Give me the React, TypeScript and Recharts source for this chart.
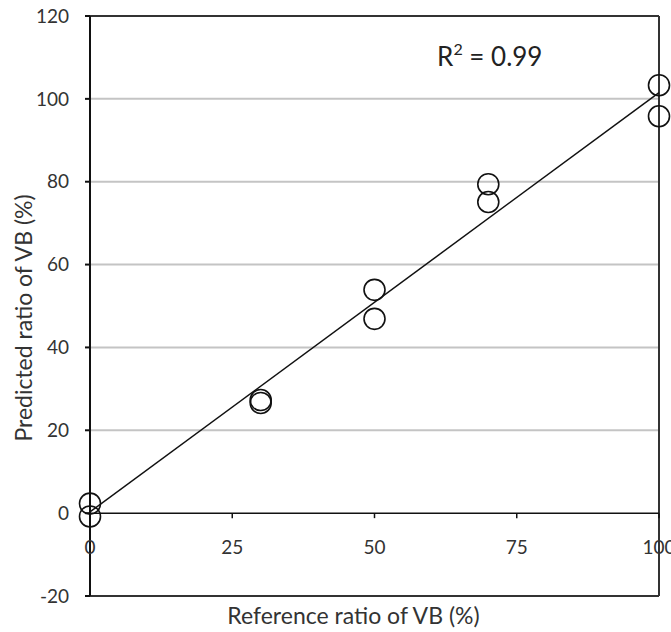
import React from "react";
import {
  CartesianGrid,
  ComposedChart,
  ReferenceDot,
  ReferenceLine,
  Scatter,
  XAxis,
  YAxis,
} from "recharts";

// measured points: reference ratio vs predicted ratio (%)
const reference = [0, 0, 30, 30, 50, 50, 70, 70, 100, 100];
const predicted = [2.3, -0.8, 27.3, 26.6, 53.9, 46.9, 79.4, 75.1, 103.3, 95.8];
const points = reference.map((x, i) => ({ x, y: predicted[i] }));

// fitted line endpoints
const trendline = [
  { x: 0, y: 0.3 },
  { x: 100, y: 101.5 },
];

const xTicks = [0, 25, 50, 75, 100];
const yTicks = [-20, 0, 20, 40, 60, 80, 100, 120];
const gridLines = [20, 40, 60, 80, 100];

const FONT = "Lato, 'Open Sans', sans-serif";
const TEXT = "#333";

const Ring = (props: any) => {
  const { cx, cy } = props;
  return <circle cx={cx} cy={cy} r={10.5} fill="none" stroke="#111" strokeWidth={1.6} />;
};

const XTick = (label: number) => (props: any) => {
  const { cx, cy } = props;
  return (
    <g>
      <line x1={cx} y1={cy} x2={cx} y2={cy + 5} stroke="#111" strokeWidth={1.5} />
      <text x={cx} y={cy + 41} textAnchor="middle" fontSize={19} fontFamily={FONT} fill={TEXT}>
        {label}
      </text>
    </g>
  );
};

const RSquared = (props: any) => {
  const { cx, cy } = props;
  return (
    <text x={cx} y={cy + 9} fontSize={26} fontFamily={FONT} fill="#222">
      R
      <tspan fontSize={16} dy={-11}>2</tspan>
      <tspan dy={11}> = 0.99</tspan>
    </text>
  );
};

export default function App() {
  return (
    <div style={{ position: "absolute", left: 0, top: 0, width: 671, height: 632, background: "#fff" }}>
      <ComposedChart width={671} height={632} margin={{ top: 16, right: 12, bottom: 36, left: 0 }}>
        <CartesianGrid horizontal vertical={false} stroke="#c4c4c4" strokeWidth={2} horizontalValues={gridLines} />
        <XAxis type="number" dataKey="x" domain={[0, 100]} ticks={xTicks} hide />
        <YAxis
          type="number"
          dataKey="y"
          domain={[-20, 120]}
          ticks={yTicks}
          width={90}
          axisLine={{ stroke: "#111", strokeWidth: 2 }}
          tickLine={{ stroke: "#111", strokeWidth: 2 }}
          tickSize={5}
          tickMargin={16}
          tick={{ fontSize: 19, fontFamily: FONT, fill: TEXT }}
          label={{
            value: "Predicted ratio of VB (%)",
            angle: -90,
            position: "insideLeft",
            offset: 0,
            dx: 24,
            dy: 12,
            style: { fontSize: 23, fontFamily: FONT, fill: TEXT, textAnchor: "middle" },
          }}
        />
        <ReferenceLine y={120} stroke="#333" strokeWidth={2} />
        <ReferenceLine y={-20} stroke="#333" strokeWidth={2} />
        <ReferenceLine x={100} stroke="#333" strokeWidth={2} />
        <ReferenceLine y={0} stroke="#111" strokeWidth={1.5} />
        {xTicks.map((t) => (
          <ReferenceDot key={t} x={t} y={0} r={0} shape={XTick(t)} />
        ))}
        <ReferenceLine
          segment={trendline}
          stroke="#111"
          strokeWidth={1.5}
        />
        <Scatter data={points} shape={<Ring />} isAnimationActive={false} />
        <ReferenceDot x={61} y={110} r={0} shape={<RSquared />} />
        <ReferenceDot
          x={50}
          y={-20}
          r={0}
          shape={(p: any) => (
            <text x={p.cx - 21} y={p.cy + 28} textAnchor="middle" fontSize={23} fontFamily={FONT} fill={TEXT}>
              Reference ratio of VB (%)
            </text>
          )}
        />
      </ComposedChart>
    </div>
  );
}
